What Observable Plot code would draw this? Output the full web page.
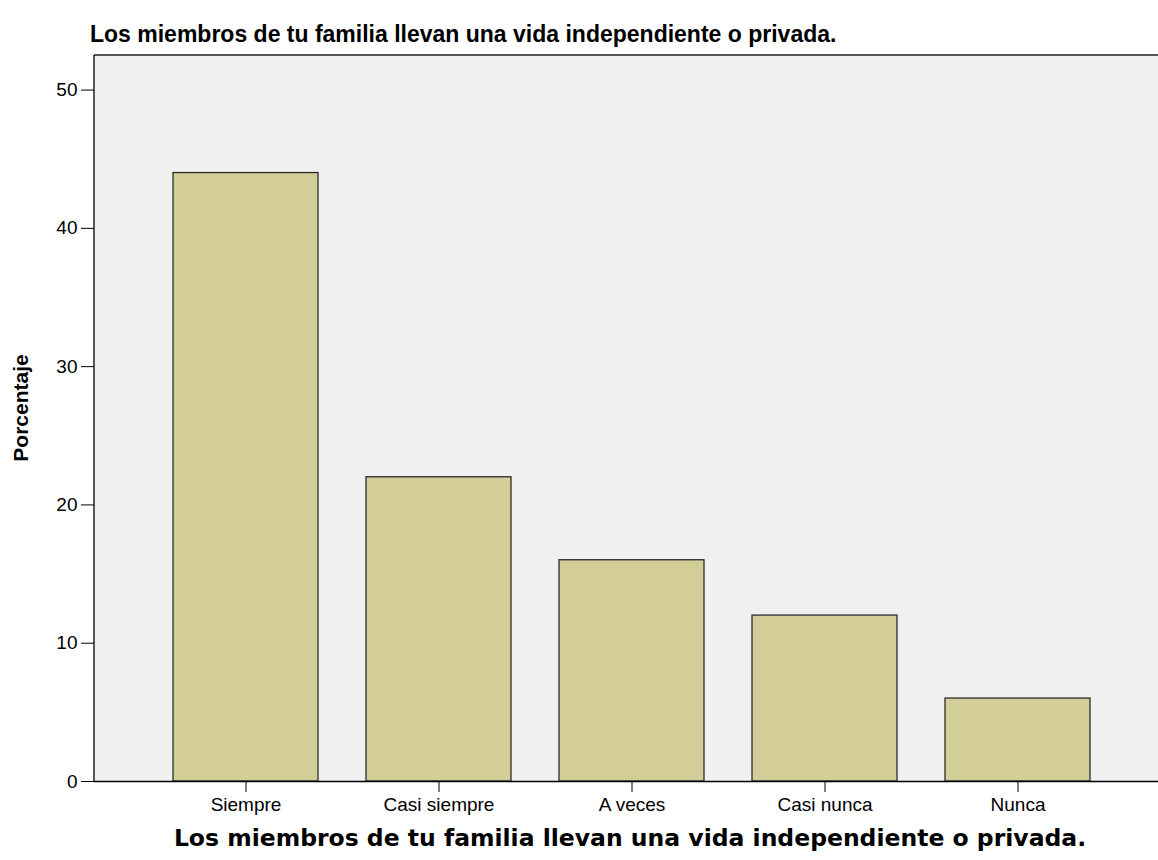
<!DOCTYPE html>
<html>
<head>
<meta charset="utf-8">
<script src="https://cdn.jsdelivr.net/npm/d3@7"></script>
<script src="https://cdn.jsdelivr.net/npm/@observablehq/plot@0.6"></script>
<style>
  html, body { margin: 0; padding: 0; background: #ffffff; }
  #chart svg { display: block; }
  #chart g[aria-label$="tick label"] { font-size: 19px !important; font-family: 'Liberation Sans', Arial, sans-serif !important; }
  #chart g[aria-label$="tick label"] text { font-size: 19px !important; }
  .ttl { font-family: 'Liberation Sans', Arial, sans-serif; font-weight: bold; font-size: 23px; fill: #000; }
  .xlbl { font-family: 'DejaVu Sans', Verdana, sans-serif; font-weight: bold; font-size: 23.5px; fill: #000; }
  .ylbl { font-family: 'Liberation Sans', Arial, sans-serif; font-weight: bold; font-size: 21px; fill: #000; }
</style>
</head>
<body>
<div id="chart"></div>
<script>
const categories = ["Siempre", "Casi siempre", "A veces", "Casi nunca", "Nunca"];
const percentages = [44, 22, 16, 12, 6];
const yTicks = [0, 10, 20, 30, 40, 50];
const titleText = "Los miembros de tu familia llevan una vida independiente o privada.";
const xLabelText = "Los miembros de tu familia llevan una vida independiente o privada.";
const yLabelText = "Porcentaje";

const data = categories.map((c, i) => ({category: c, value: percentages[i]}));

const W = 1158, H = 860;
const mL = 94, mT = 55, mB = 79, mR = 0;

const chart = Plot.plot({
  width: W,
  height: H,
  marginLeft: mL,
  marginRight: mR,
  marginTop: mT,
  marginBottom: mB,
  style: {background: "#ffffff", fontFamily: "'Liberation Sans', Arial, sans-serif", fontSize: "19px", color: "#000"},
  x: {domain: categories, range: [mL, 1170], paddingInner: 0.247, paddingOuter: 0.397, label: null},
  y: {domain: [0, 52.5], label: null},
  marks: [
    Plot.frame({fill: "#f0f0f0", stroke: null}),
    Plot.barY(data, {x: "category", y: "value", fill: "#d3ce97", stroke: "#2b2b2b", strokeWidth: 1.3}),
    Plot.axisY({ticks: yTicks, tickSize: 13, tickPadding: 4, label: null, stroke: "#000"}),
    Plot.axisX({tickSize: 11, tickPadding: 5, label: null, stroke: "#000"}),
    Plot.ruleY([0], {stroke: "#000", strokeWidth: 1.3})
  ]
});

const svg = d3.select(chart);
svg.append("line").attr("x1", mL).attr("x2", W).attr("y1", mT).attr("y2", mT)
  .attr("stroke", "#555").attr("stroke-width", 2);
svg.append("line").attr("x1", mL).attr("x2", mL).attr("y1", mT).attr("y2", H - mB)
  .attr("stroke", "#000").attr("stroke-width", 1.3);

svg.append("text").text(titleText).attr("class", "ttl")
  .attr("x", 90).attr("y", 42).attr("text-anchor", "start");

svg.append("text").text(xLabelText).attr("class", "xlbl")
  .attr("x", 630).attr("y", 846).attr("text-anchor", "middle");

svg.append("text").text(yLabelText).attr("class", "ylbl")
  .attr("transform", "translate(28,408) rotate(-90)")
  .attr("text-anchor", "middle");

document.getElementById("chart").appendChild(chart);
</script>
</body>
</html>
